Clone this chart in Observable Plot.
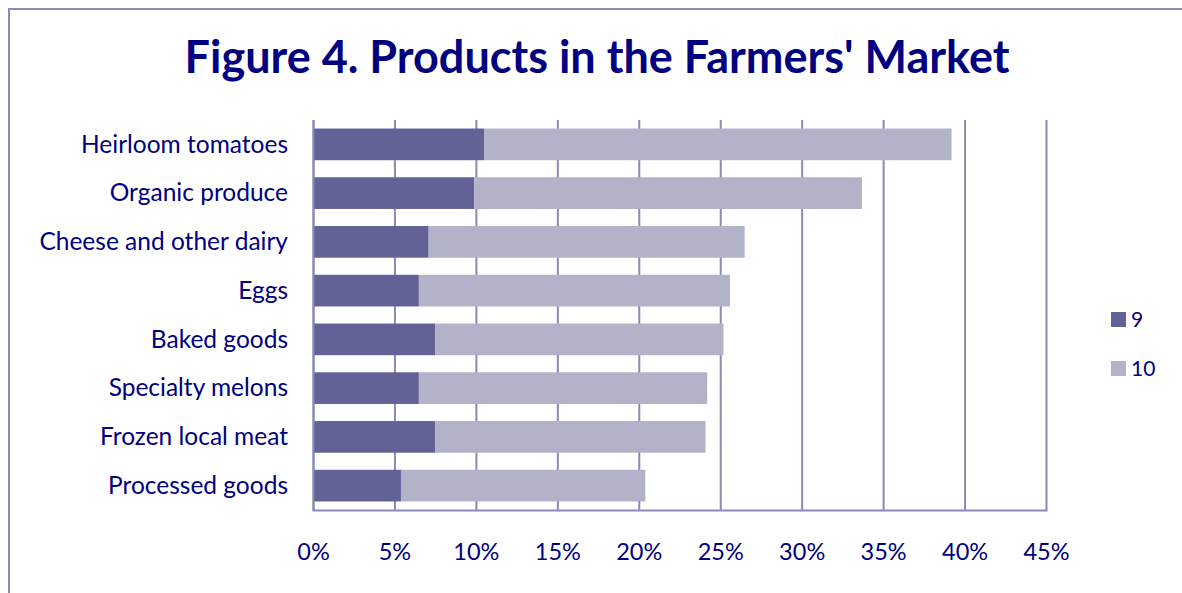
<!DOCTYPE html>
<html>
<head>
<meta charset="utf-8">
<script src="https://cdn.jsdelivr.net/npm/d3@7"></script>
<script src="https://cdn.jsdelivr.net/npm/@observablehq/plot@0.6"></script>
<style>
  html, body { margin: 0; padding: 0; background: #fff; overflow: hidden; }
  #wrap { position: relative; width: 1182px; height: 593px; overflow: hidden; font-family: Lato, "Open Sans", sans-serif; }
  #frame { position: absolute; left: 8px; top: 8px; width: 1300px; height: 700px; border: 2px solid #8a8ab6; box-sizing: border-box; }
  #title { position: absolute; left: 0; width: 1194px; top: 34px; text-align: center; font-weight: bold; font-size: 45px; line-height: 1; color: #000080; white-space: nowrap; }
  #chart { position: absolute; left: 0; top: 0; }
  .sw { position: absolute; left: 1111px; width: 15px; height: 15px; }
  .lt { position: absolute; left: 1131px; font-size: 21px; line-height: 1; color: #000080; }
</style>
</head>
<body>
<div id="wrap">
  <div id="frame"></div>
  <div id="title">Figure 4. Products in the Farmers' Market</div>
  <div id="chart"></div>
  <div class="sw" style="top:312px;background:#626296"></div>
  <div class="lt" style="top:308px">9</div>
  <div class="sw" style="top:361px;background:#b2b2c8"></div>
  <div class="lt" style="top:357px">10</div>
</div>
<script>
const categories = ["Heirloom tomatoes", "Organic produce", "Cheese and other dairy", "Eggs", "Baked goods", "Specialty melons", "Frozen local meat", "Processed goods"];
const seriesNames = ["9", "10"];
const series9 = [10.5, 9.9, 7.1, 6.5, 7.5, 6.5, 7.5, 5.4];
const series10 = [28.7, 23.8, 19.4, 19.1, 17.7, 17.7, 16.6, 15.0];
const xTicks = [0, 5, 10, 15, 20, 25, 30, 35, 40, 45];

const rows = [];
categories.forEach((c, i) => {
  rows.push({category: c, series: "9", value: series9[i]});
  rows.push({category: c, series: "10", value: series10[i]});
});

const chart = Plot.plot({
  width: 1182,
  height: 593,
  marginLeft: 313,
  marginRight: 136,
  marginTop: 120,
  marginBottom: 83,
  style: {fontFamily: "Lato, 'Open Sans', sans-serif", fontSize: "24px", color: "#000080", background: "transparent"},
  x: {domain: [0, 45], ticks: xTicks},
  y: {domain: categories, paddingInner: 0.35, paddingOuter: 0.175, round: false},
  color: {domain: seriesNames, range: ["#626296", "#b2b2c8"]},
  marks: [
    Plot.gridX(xTicks, {stroke: "#8a8ab6", strokeOpacity: 1, strokeWidth: 2}),
    Plot.barX(rows, Plot.stackX({y: "category", x: "value", fill: "series", order: seriesNames})),
    Plot.axisX({ticks: xTicks, tickSize: 0, tickPadding: 33, fontSize: 23.5, tickFormat: d => d + "%", label: null}),
    Plot.axisY({tickSize: 0, tickPadding: 25.5, fontSize: 24.5, label: null}),
    Plot.ruleX([0], {stroke: "#8a8ab6", strokeWidth: 2}),
    Plot.frame({anchor: "bottom", stroke: "#8a8ab6", strokeWidth: 2})
  ]
});
document.getElementById("chart").appendChild(chart);
</script>
</body>
</html>
